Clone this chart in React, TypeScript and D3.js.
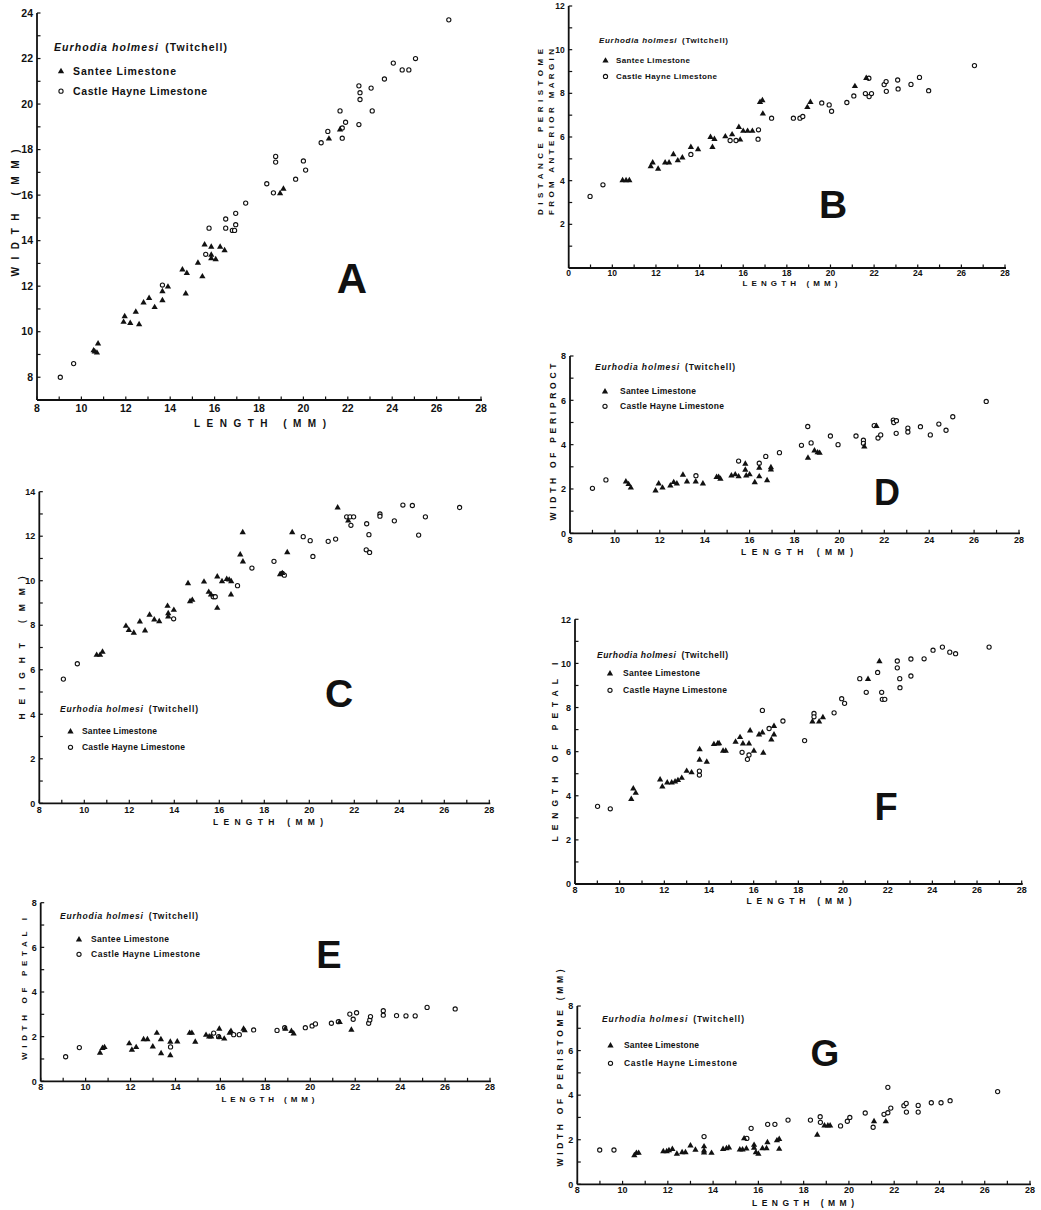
import React from 'react';
import * as d3 from 'd3';

// Eurhodia holmesi measurements, [length, value] in mm
const aSantee = [[10.55, 9.2], [10.6, 9.15], [10.7, 9.1], [10.75, 9.5], [11.9, 10.45], [11.95, 10.7], [12.2, 10.4], [12.45, 10.9], [12.6, 10.35], [12.8, 11.3], [13.05, 11.5], [13.3, 11.1], [13.65, 11.4], [13.65, 11.8], [13.9, 12.0], [14.55, 12.75], [14.75, 12.6], [14.7, 11.7], [15.25, 13.05], [15.45, 12.45], [15.55, 13.85], [15.85, 13.75], [15.85, 13.4], [15.85, 13.25], [16.05, 13.2], [16.25, 13.75], [16.45, 13.6], [18.95, 16.1], [19.1, 16.3], [21.15, 18.5], [21.65, 18.9]];
const aCastle = [[9.05, 8.0], [9.65, 8.6], [13.65, 12.05], [15.6, 13.4], [15.75, 14.55], [16.5, 14.95], [16.5, 14.55], [16.8, 14.45], [16.9, 14.45], [16.95, 15.2], [16.95, 14.7], [17.4, 15.65], [18.35, 16.5], [18.65, 16.1], [18.75, 17.7], [18.75, 17.45], [19.65, 16.7], [20.0, 17.5], [20.1, 17.1], [20.8, 18.3], [21.1, 18.8], [21.65, 19.7], [21.75, 18.95], [21.75, 18.5], [21.9, 19.2], [22.5, 20.8], [22.55, 20.5], [22.55, 20.2], [22.5, 19.1], [23.05, 20.7], [23.1, 19.7], [23.65, 21.1], [24.05, 21.8], [24.45, 21.5], [24.75, 21.5], [25.05, 22.0], [26.55, 23.7]];

const bSantee = [[10.47, 4.04], [10.63, 4.04], [10.78, 4.04], [11.76, 4.68], [11.85, 4.85], [12.1, 4.57], [12.42, 4.85], [12.6, 4.85], [12.8, 5.23], [13.0, 4.95], [13.21, 5.08], [13.6, 5.56], [13.93, 5.46], [14.5, 6.02], [14.68, 5.93], [14.59, 5.56], [15.18, 6.05], [15.49, 6.14], [15.8, 6.48], [15.86, 5.9], [16.0, 6.3], [16.2, 6.3], [16.42, 6.3], [16.77, 7.62], [16.88, 7.7], [16.9, 7.09], [18.94, 7.39], [19.08, 7.62], [21.12, 8.35], [21.64, 8.72]];
const bCastle = [[8.98, 3.28], [9.57, 3.81], [13.6, 5.2], [15.4, 5.84], [15.67, 5.84], [16.7, 6.33], [16.68, 5.9], [17.3, 6.86], [18.3, 6.86], [18.6, 6.86], [18.73, 6.94], [19.6, 7.56], [19.94, 7.47], [20.05, 7.18], [20.75, 7.58], [21.07, 7.88], [21.6, 7.99], [21.76, 8.69], [21.77, 7.85], [21.88, 7.99], [22.46, 8.4], [22.55, 8.54], [22.56, 8.09], [23.08, 8.61], [23.1, 8.2], [23.69, 8.41], [24.08, 8.73], [24.5, 8.12], [26.6, 9.27]];

const cSantee = [[10.55, 6.69], [10.7, 6.69], [10.81, 6.83], [11.85, 7.99], [11.98, 7.81], [12.2, 7.68], [12.47, 8.19], [12.7, 7.78], [12.9, 8.49], [13.11, 8.28], [13.33, 8.2], [13.7, 8.89], [13.73, 8.56], [13.73, 8.41], [13.98, 8.71], [14.61, 9.91], [14.7, 9.1], [14.8, 9.16], [15.32, 9.98], [15.53, 9.52], [15.63, 9.4], [15.91, 10.21], [15.91, 8.8], [16.12, 10.0], [16.33, 10.1], [16.44, 10.07], [16.53, 10.0], [16.52, 9.4], [16.93, 11.2], [17.04, 12.2], [17.05, 10.88], [18.7, 10.31], [18.8, 10.36], [19.02, 11.3], [19.24, 12.2], [21.26, 13.31], [21.73, 12.72]];
const cCastle = [[9.07, 5.58], [9.69, 6.27], [13.97, 8.29], [15.73, 9.28], [15.82, 9.28], [16.81, 9.78], [17.45, 10.57], [18.43, 10.87], [18.8, 10.33], [18.89, 10.25], [19.73, 11.98], [20.04, 11.8], [20.16, 11.09], [20.84, 11.77], [21.17, 11.87], [21.66, 12.87], [21.81, 12.87], [21.97, 12.87], [21.85, 12.49], [22.55, 12.56], [22.65, 12.07], [22.53, 11.39], [22.68, 11.27], [23.14, 13.0], [23.14, 12.9], [23.78, 12.69], [24.16, 13.4], [24.58, 13.38], [24.86, 12.05], [25.16, 12.87], [26.68, 13.29]];

const dSantee = [[10.49, 2.36], [10.61, 2.24], [10.71, 2.08], [11.81, 1.95], [11.95, 2.27], [12.12, 2.08], [12.47, 2.18], [12.62, 2.33], [12.76, 2.27], [13.03, 2.66], [13.21, 2.36], [13.6, 2.36], [13.92, 2.27], [14.53, 2.56], [14.62, 2.56], [14.7, 2.48], [15.19, 2.63], [15.36, 2.68], [15.51, 2.59], [15.81, 3.16], [15.81, 2.89], [15.85, 2.63], [16.0, 2.68], [16.23, 2.32], [16.43, 2.59], [16.43, 2.98], [16.78, 2.41], [16.95, 3.0], [16.95, 2.9], [18.6, 3.43], [18.89, 3.76], [19.03, 3.67], [19.12, 3.65], [21.11, 3.94], [21.65, 4.86]];
const dCastle = [[9.0, 2.03], [9.6, 2.41], [13.61, 2.6], [15.51, 3.26], [16.43, 3.16], [16.72, 3.47], [17.33, 3.64], [18.31, 3.97], [18.59, 4.82], [18.74, 4.08], [19.6, 4.39], [19.94, 4.0], [20.74, 4.39], [21.07, 4.2], [21.07, 4.06], [21.55, 4.86], [21.72, 4.3], [21.84, 4.44], [22.4, 5.11], [22.42, 5.0], [22.54, 5.08], [22.53, 4.51], [23.05, 4.75], [23.05, 4.57], [23.61, 4.81], [24.05, 4.44], [24.43, 4.93], [24.75, 4.65], [25.05, 5.26], [26.54, 5.95]];

const eSantee = [[10.64, 1.3], [10.75, 1.51], [10.84, 1.55], [11.94, 1.72], [12.06, 1.43], [12.25, 1.55], [12.58, 1.9], [12.75, 1.9], [12.99, 1.58], [13.17, 2.19], [13.35, 1.9], [13.36, 1.28], [13.77, 1.79], [13.77, 1.19], [14.08, 1.8], [14.63, 2.19], [14.73, 2.19], [14.88, 1.79], [15.36, 2.1], [15.5, 2.03], [15.59, 2.03], [15.95, 2.37], [15.95, 2.0], [16.17, 1.93], [16.41, 2.19], [16.47, 2.27], [17.03, 2.37], [17.08, 2.3], [18.89, 2.37], [19.16, 2.27], [19.26, 2.16], [21.31, 2.67], [21.83, 2.33]];
const eCastle = [[9.11, 1.1], [9.72, 1.51], [13.78, 1.54], [15.7, 2.16], [15.92, 2.0], [16.59, 2.09], [16.84, 2.09], [17.48, 2.3], [18.52, 2.28], [18.86, 2.4], [19.78, 2.4], [20.08, 2.48], [20.23, 2.57], [20.94, 2.6], [21.25, 2.67], [21.76, 3.01], [21.91, 2.78], [22.06, 3.07], [22.6, 2.6], [22.65, 2.75], [22.68, 2.9], [23.25, 3.16], [23.25, 2.96], [23.84, 2.94], [24.26, 2.93], [24.67, 2.93], [25.2, 3.31], [26.45, 3.24]];

const fSantee = [[10.52, 3.87], [10.61, 4.35], [10.72, 4.15], [11.81, 4.76], [11.91, 4.44], [12.13, 4.62], [12.33, 4.62], [12.48, 4.67], [12.61, 4.73], [12.78, 4.83], [13.0, 5.15], [13.22, 5.08], [13.58, 6.13], [13.58, 5.65], [13.9, 5.56], [14.22, 6.36], [14.39, 6.39], [14.45, 6.4], [14.63, 6.06], [14.75, 6.06], [15.19, 6.47], [15.39, 6.68], [15.52, 6.39], [15.79, 6.39], [15.84, 6.98], [16.01, 6.06], [16.24, 6.8], [16.39, 6.89], [16.43, 5.97], [16.79, 6.57], [16.91, 7.18], [16.91, 6.8], [18.63, 7.39], [18.93, 7.39], [19.1, 7.58], [21.12, 9.31], [21.63, 10.12]];
const fCastle = [[9.01, 3.52], [9.58, 3.41], [13.57, 4.94], [13.57, 5.12], [15.48, 5.97], [15.72, 5.65], [15.79, 5.85], [16.39, 7.87], [16.69, 7.05], [17.31, 7.39], [18.28, 6.5], [18.7, 7.73], [18.7, 7.58], [19.6, 7.76], [19.94, 8.4], [20.07, 8.19], [20.75, 9.31], [21.04, 8.69], [21.55, 9.59], [21.73, 8.69], [21.76, 8.37], [21.87, 8.37], [22.43, 10.11], [22.43, 9.8], [22.54, 9.31], [22.55, 8.9], [23.04, 10.2], [23.04, 9.43], [23.63, 10.21], [24.03, 10.6], [24.45, 10.74], [24.78, 10.51], [25.04, 10.44], [26.54, 10.74]];

const gSantee = [[10.52, 1.32], [10.61, 1.43], [10.71, 1.43], [11.8, 1.5], [11.95, 1.5], [12.05, 1.55], [12.2, 1.6], [12.4, 1.39], [12.63, 1.46], [12.78, 1.46], [13.0, 1.76], [13.22, 1.57], [13.6, 1.72], [13.6, 1.54], [13.6, 1.45], [13.93, 1.43], [14.44, 1.6], [14.59, 1.64], [14.7, 1.67], [15.18, 1.58], [15.3, 1.58], [15.37, 2.08], [15.47, 1.63], [15.81, 1.79], [15.81, 1.66], [15.89, 1.46], [16.0, 1.39], [16.18, 1.64], [16.36, 1.64], [16.4, 1.91], [16.82, 1.99], [16.92, 2.05], [16.92, 1.61], [18.6, 2.24], [18.92, 2.66], [19.07, 2.66], [19.17, 2.66], [21.11, 2.85], [21.63, 2.85]];
const gCastle = [[8.99, 1.54], [9.62, 1.54], [13.6, 2.14], [15.49, 2.06], [15.68, 2.51], [16.41, 2.69], [16.73, 2.69], [17.31, 2.88], [18.3, 2.88], [18.73, 3.03], [18.74, 2.78], [19.63, 2.62], [19.93, 2.83], [20.04, 3.0], [20.72, 3.2], [21.07, 2.56], [21.55, 3.14], [21.72, 3.21], [21.72, 4.35], [21.85, 3.42], [22.43, 3.53], [22.53, 3.63], [22.54, 3.24], [23.06, 3.54], [23.06, 3.24], [23.64, 3.66], [24.07, 3.66], [24.47, 3.75], [26.57, 4.16]];

const lengthDomain = [8, 28];
const speciesName = 'Eurhodia holmesi';
const authorName = '(Twitchell)';
const seriesNames = ['Santee Limestone', 'Castle Hayne Limestone'];
const xTitle = 'LENGTH (MM)';

const FONT = "'Liberation Sans', Arial, sans-serif";

const panels = [
  {
    letter: 'A', santee: aSantee, castle: aCastle, yDomain: [7, 24],
    xr: [37, 481], yr: [400, 13], tickFont: 10.5, xLabelDy: 12,
    yTitle: ['WIDTH (MM)'], yTitleX: [15], yTitleY: 213, yTitleW: 127,
    xTitleX: 260, xTitleY: 427, xTitleW: 132, titleFont: 10,
    leg: { x: 54, y: 51, w: 173, font: 10.5, rows: [74.5, 94.5], mx: 61, tx: 73, tw: [103, 134] },
    big: { x: 352, y: 293, size: 42 },
  },
  {
    letter: 'B', santee: bSantee, castle: bCastle, yDomain: [0, 12],
    xr: [568.7, 1005], yr: [268, 6], tickFont: 8.5, xLabelDy: 8, zeroOnX: true,
    yTitle: ['DISTANCE PERISTOME', 'FROM ANTERIOR MARGIN'], yTitleX: [540, 551], yTitleY: 132, yTitleW: 166,
    xTitleX: 790, xTitleY: 286, xTitleW: 95, titleFont: 8,
    leg: { x: 599, y: 43, w: 129, font: 8, rows: [63, 79], mx: 605.5, tx: 616, tw: [74, 101] },
    big: { x: 833, y: 218, size: 39 },
  },
  {
    letter: 'C', santee: cSantee, castle: cCastle, yDomain: [0, 14],
    xr: [39.3, 489.3], yr: [803.3, 491.7], tickFont: 9, xLabelDy: 10,
    yTitle: ['HEIGHT (MM)'], yTitleX: [22], yTitleY: 648, yTitleW: 143,
    xTitleX: 268, xTitleY: 825, xTitleW: 110, titleFont: 8.5,
    leg: { x: 60, y: 712, w: 138, font: 8.5, rows: [734, 750], mx: 70.5, tx: 82, tw: [75, 103] },
    big: { x: 339, y: 707, size: 39 },
  },
  {
    letter: 'D', santee: dSantee, castle: dCastle, yDomain: [0, 8],
    xr: [570, 1019], yr: [533.3, 356], tickFont: 9, xLabelDy: 10,
    yTitle: ['WIDTH OF PERIPROCT'], yTitleX: [553], yTitleY: 442, yTitleW: 157,
    xTitleX: 797, xTitleY: 555, xTitleW: 112, titleFont: 8.5,
    leg: { x: 595, y: 370, w: 140, font: 8.5, rows: [394, 409], mx: 605, tx: 620, tw: [76, 104] },
    big: { x: 887, y: 505, size: 36 },
  },
  {
    letter: 'E', santee: eSantee, castle: eCastle, yDomain: [0, 8],
    xr: [40.7, 490], yr: [1081.3, 902.7], tickFont: 9, xLabelDy: 8.5,
    yTitle: ['WIDTH OF PETAL I'], yTitleX: [24], yTitleY: 989, yTitleW: 142,
    xTitleX: 268, xTitleY: 1102, xTitleW: 93, titleFont: 8,
    leg: { x: 60, y: 919, w: 138, font: 8.5, rows: [942, 957], mx: 79, tx: 91, tw: [78, 109] },
    big: { x: 329, y: 968, size: 38 },
  },
  {
    letter: 'F', santee: fSantee, castle: fCastle, yDomain: [0, 12],
    xr: [575, 1021.7], yr: [884, 619.3], tickFont: 9, xLabelDy: 8.5,
    yTitle: ['LENGTH OF PETAL I'], yTitleX: [555], yTitleY: 752, yTitleW: 179,
    xTitleX: 799, xTitleY: 904, xTitleW: 105, titleFont: 8.5,
    leg: { x: 597, y: 658, w: 131, font: 8.5, rows: [676, 693], mx: 610, tx: 623, tw: [77, 104] },
    big: { x: 886, y: 820, size: 38 },
  },
  {
    letter: 'G', santee: gSantee, castle: gCastle, yDomain: [0, 8],
    xr: [577.3, 1030], yr: [1184.3, 1006], tickFont: 9, xLabelDy: 9,
    yTitle: ['WIDTH OF PERISTOME (MM)'], yTitleX: [560], yTitleY: 1068, yTitleW: 197,
    xTitleX: 803, xTitleY: 1206, xTitleW: 102, titleFont: 8.5,
    leg: { x: 602, y: 1022, w: 142, font: 8.5, rows: [1048, 1066], mx: 610.5, tx: 624, tw: [75, 113] },
    big: { x: 825, y: 1066, size: 37 },
  },
];

const triPath = d3.symbol(d3.symbolTriangle, 17)();

function Triangle({ cx, cy }) {
  return <path d={triPath} transform={`translate(${cx},${cy + 0.6})`} fill="#111" />;
}
function Ring({ cx, cy }) {
  return <circle cx={cx} cy={cy} r={2.1} fill="#fff" stroke="#111" strokeWidth={1.1} />;
}

function Panel({ p }) {
  const x = d3.scaleLinear().domain(lengthDomain).range(p.xr);
  const y = d3.scaleLinear().domain(p.yDomain).range(p.yr);
  const xTicks = d3.range(lengthDomain[0], lengthDomain[1] + 1);
  const yTicks = d3.range(Math.ceil(p.yDomain[0]), p.yDomain[1] + 1);
  const ox = x(lengthDomain[0]);
  const oy = y(p.yDomain[0]);
  const L = p.leg;

  return (
    <g fontFamily={FONT} fontWeight="bold" fill="#111">
      {/* axes */}
      <line x1={ox} x2={x(lengthDomain[1]) + 1} y1={oy} y2={oy} stroke="#111" strokeWidth={1.8} />
      <line x1={ox} x2={ox} y1={oy} y2={y(p.yDomain[1])} stroke="#111" strokeWidth={1.8} />
      {xTicks.map(t => (
        <line key={'xt' + t} x1={x(t)} x2={x(t)} y1={oy} y2={oy - 3.5} stroke="#111" strokeWidth={1.2} />
      ))}
      {yTicks.map(t => (
        <line key={'yt' + t} x1={ox} x2={ox + 3.5} y1={y(t)} y2={y(t)} stroke="#111" strokeWidth={1.2} />
      ))}
      {xTicks.filter(t => t % 2 === 0).map(t => (
        <text key={'xl' + t} x={x(t)} y={oy + p.xLabelDy} textAnchor="middle" fontSize={p.tickFont}>
          {t === 8 && p.zeroOnX ? '0' : t}
        </text>
      ))}
      {yTicks.filter(t => t % 2 === 0 && !(t === 0 && p.zeroOnX)).map(t => (
        <text key={'yl' + t} x={ox - 4} y={y(t) + p.tickFont * 0.36} textAnchor="end" fontSize={p.tickFont}>
          {t}
        </text>
      ))}

      {/* axis titles */}
      <text x={p.xTitleX} y={p.xTitleY} textAnchor="middle" fontSize={p.titleFont}
        textLength={p.xTitleW} lengthAdjust="spacing">{xTitle}</text>
      {p.yTitle.map((s, i) => (
        <text key={s} transform={`translate(${p.yTitleX[i]},${p.yTitleY}) rotate(-90)`}
          textAnchor="middle" dominantBaseline="central" fontSize={p.titleFont}
          textLength={p.yTitleW} lengthAdjust="spacing">{s}</text>
      ))}

      {/* legend */}
      <text x={L.x} y={L.y} fontSize={L.font} textLength={L.w} lengthAdjust="spacing">
        <tspan fontStyle="italic">{speciesName}</tspan>
        <tspan dx={L.font * 0.6}>{authorName}</tspan>
      </text>
      <Triangle cx={L.mx} cy={L.rows[0] - L.font * 0.35} />
      <Ring cx={L.mx} cy={L.rows[1] - L.font * 0.32} />
      {seriesNames.map((s, i) => (
        <text key={s} x={L.tx} y={L.rows[i]} fontSize={L.font} textLength={L.tw[i]} lengthAdjust="spacing">{s}</text>
      ))}

      {/* panel letter */}
      <text x={p.big.x} y={p.big.y} textAnchor="middle" fontSize={p.big.size} fontWeight="900">{p.letter}</text>

      {/* points */}
      {p.castle.map((d, i) => <Ring key={'c' + i} cx={x(d[0])} cy={y(d[1])} />)}
      {p.santee.map((d, i) => <Triangle key={'s' + i} cx={x(d[0])} cy={y(d[1])} />)}
    </g>
  );
}

export default function App() {
  return (
    <svg width={1041} height={1210} style={{ position: 'absolute', left: 0, top: 0, background: '#fff' }}>
      <rect width={1041} height={1210} fill="#fff" />
      {panels.map(p => <Panel key={p.letter} p={p} />)}
    </svg>
  );
}
